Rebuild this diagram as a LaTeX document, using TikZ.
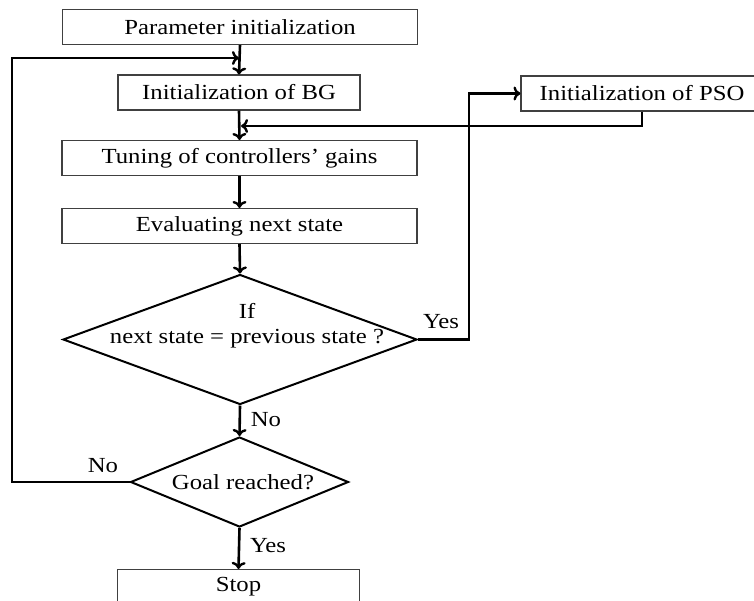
\documentclass[tikz,border=0pt]{standalone}
\usepackage{fontspec}
\setmainfont{Liberation Serif}[FakeStretch=1.15]
\usetikzlibrary{shapes.geometric,arrows.meta}
\begin{document}
\begin{tikzpicture}[x=1pt,y=-1pt,
  txt/.style={font=\fontsize{21.5}{25}\selectfont},
  box/.style={draw=black!75, line width=1.1pt, inner sep=0pt, minimum height=35pt, txt},
  dec/.style={diamond, draw, line width=2pt, inner sep=0pt},
  flow/.style={line width=2.6pt, -{To[length=7pt,width=14pt,line width=2.4pt]}}]
\useasboundingbox (0,0) rectangle (754,600);

% process boxes on the main axis
\node[box, minimum width=355pt] (param) at (240,27)    {Parameter initialization};
\node[box, minimum width=242pt] (bg)    at (239,92.5)  {Initialization of BG};
\node[box, minimum width=355pt] (tune)  at (239.5,158) {Tuning of controllers’ gains};
\node[box, minimum width=355pt] (eval)  at (239.5,226) {Evaluating next state};
\node[box, minimum width=242pt] (pso)   at (642,93.5)  {Initialization of PSO};
\node[box, minimum width=242pt] (stop)  at (238.5,587) {Stop};

% decisions
\node[dec, minimum width=354pt, minimum height=130pt] (same) at (240,339.5) {};
\node[txt, align=center] (sametext) at (247,326) {If\\next state = previous state ?};
\node[dec, minimum width=218pt, minimum height=90pt] (goal) at (239.5,482) {};
\node[txt] (goaltext) at (243,482) {Goal reached?};

% branch labels
\node[txt] (yes1) at (441,322) {Yes};
\node[txt] (no1)  at (266,420) {No};
\node[txt] (no2)  at (103,466) {No};
\node[txt] (yes2) at (268,546) {Yes};

% helper points for the bends
\coordinate (loopin)  at (239,58);
\coordinate (psoin)   at (239,126);
\coordinate (yesbend) at (469,339.5);

% main flow
\draw[flow] (param.south) -- (bg.north);
\draw[flow] (bg.south) -- (tune.north);
\draw[flow] (tune.south) -- (eval.north);
\draw[flow] (eval.south) -- (same.north);
\draw[flow] (same.south) -- (goal.north);
\draw[flow] (goal.south) -- (stop.north);

% loop back when the goal is not reached
\draw[flow] (goal.west) -- (12,482) -- (12,58) -- (loopin);

% switch to PSO when the state does not change
\draw[flow] (same.east) -- (yesbend) -- (yesbend |- pso.west) -- (pso.west);
\draw[flow] (pso.south) -- (pso.south |- psoin) -- ([xshift=2pt]psoin);
\end{tikzpicture}
\end{document}
